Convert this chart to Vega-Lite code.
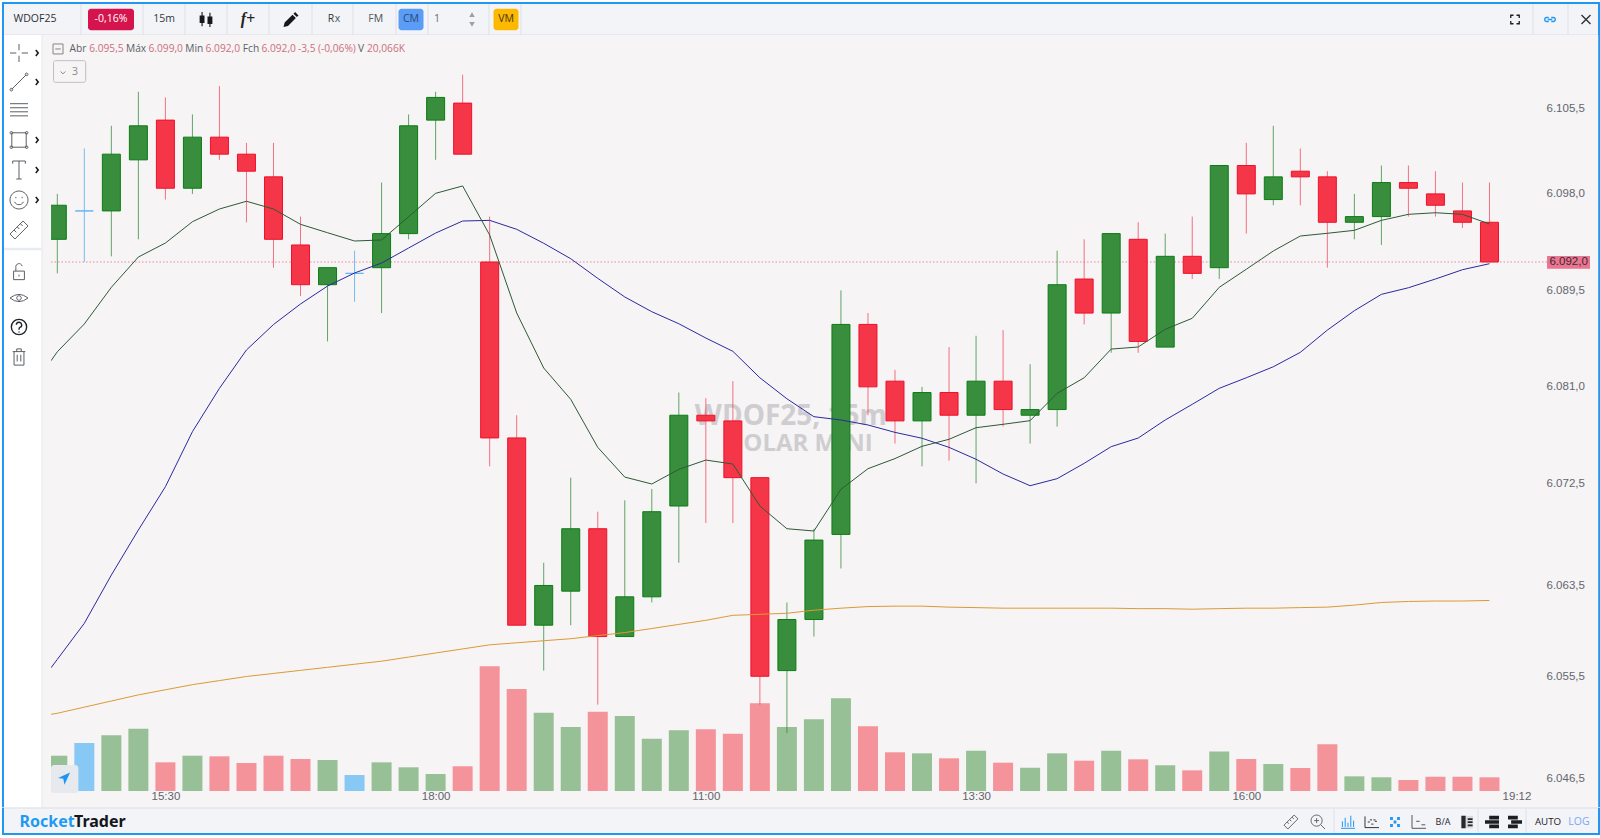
{
"$schema":"https://vega.github.io/schema/vega-lite/v6.json",
"background":"#ffffff",
"padding":{"left":1,"top":2,"right":1,"bottom":3},
"spacing":0,
"bounds":"flush",
"config":{"view":{"stroke":null},"font":"Open Sans","text":{"font":"Open Sans"}},
"datasets":{
"candles":[
{"bar":0,"dir":"up","open":6094,"high":6098,"low":6091,"close":6097,"volume":51.7},
{"bar":1,"dir":"doji","open":6096.5,"high":6102,"low":6092,"close":6096.5,"volume":70.3},
{"bar":2,"dir":"up","open":6096.5,"high":6104,"low":6092.5,"close":6101.5,"volume":81.6},
{"bar":3,"dir":"up","open":6101,"high":6107,"low":6094,"close":6104,"volume":91.3},
{"bar":4,"dir":"down","open":6104.5,"high":6106.5,"low":6097.5,"close":6098.5,"volume":42.0},
{"bar":5,"dir":"up","open":6098.5,"high":6105,"low":6098,"close":6103,"volume":51.7},
{"bar":6,"dir":"down","open":6103,"high":6107.5,"low":6101,"close":6101.5,"volume":50.8},
{"bar":7,"dir":"down","open":6101.5,"high":6102.5,"low":6095.5,"close":6100,"volume":41.0},
{"bar":8,"dir":"down","open":6099.5,"high":6102.5,"low":6091.5,"close":6094,"volume":51.7},
{"bar":9,"dir":"down","open":6093.5,"high":6096,"low":6089,"close":6090,"volume":46.9},
{"bar":10,"dir":"up","open":6090,"high":6091.5,"low":6085,"close":6091.5,"volume":45.4},
{"bar":11,"dir":"doji","open":6091,"high":6093,"low":6088.5,"close":6091,"volume":23.4},
{"bar":12,"dir":"up","open":6091.5,"high":6099,"low":6087.5,"close":6094.5,"volume":42.0},
{"bar":13,"dir":"up","open":6094.5,"high":6105,"low":6094,"close":6104,"volume":34.7},
{"bar":14,"dir":"up","open":6104.5,"high":6107,"low":6101,"close":6106.5,"volume":24.9},
{"bar":15,"dir":"down","open":6106,"high":6108.5,"low":6101.5,"close":6101.5,"volume":36.2},
{"bar":16,"dir":"down","open":6092,"high":6096,"low":6074,"close":6076.5,"volume":182.7},
{"bar":17,"dir":"down","open":6076.5,"high":6078.5,"low":6060,"close":6060,"volume":149.4},
{"bar":18,"dir":"up","open":6060,"high":6065.5,"low":6056,"close":6063.5,"volume":114.7},
{"bar":19,"dir":"up","open":6063,"high":6073,"low":6060,"close":6068.5,"volume":93.8},
{"bar":20,"dir":"down","open":6068.5,"high":6070,"low":6053,"close":6059,"volume":116.2},
{"bar":21,"dir":"up","open":6059,"high":6071,"low":6059,"close":6062.5,"volume":109.9},
{"bar":22,"dir":"up","open":6062.5,"high":6072,"low":6062,"close":6070,"volume":76.6},
{"bar":23,"dir":"up","open":6070.5,"high":6080.5,"low":6065.5,"close":6078.5,"volume":88.9},
{"bar":24,"dir":"down","open":6078.5,"high":6080,"low":6069,"close":6078,"volume":90.4},
{"bar":25,"dir":"down","open":6078,"high":6081.5,"low":6069,"close":6073,"volume":83.9},
{"bar":26,"dir":"down","open":6073,"high":6073,"low":6053,"close":6055.5,"volume":128.5},
{"bar":27,"dir":"up","open":6056,"high":6062,"low":6050.5,"close":6060.5,"volume":93.8},
{"bar":28,"dir":"up","open":6060.5,"high":6068.5,"low":6059,"close":6067.5,"volume":105.0},
{"bar":29,"dir":"up","open":6068,"high":6089.5,"low":6065,"close":6086.5,"volume":135.8},
{"bar":30,"dir":"down","open":6086.5,"high":6087.5,"low":6078.5,"close":6081,"volume":95.0},
{"bar":31,"dir":"down","open":6081.5,"high":6082.5,"low":6076,"close":6078,"volume":56.7},
{"bar":32,"dir":"up","open":6078,"high":6081,"low":6074,"close":6080.5,"volume":55.2},
{"bar":33,"dir":"down","open":6080.5,"high":6084.5,"low":6074.5,"close":6078.5,"volume":47.9},
{"bar":34,"dir":"up","open":6078.5,"high":6085.5,"low":6072.5,"close":6081.5,"volume":59.0},
{"bar":35,"dir":"down","open":6081.5,"high":6086,"low":6077.5,"close":6079,"volume":41.5},
{"bar":36,"dir":"up","open":6078.5,"high":6083,"low":6076,"close":6079,"volume":34.1},
{"bar":37,"dir":"up","open":6079,"high":6093,"low":6077.5,"close":6090,"volume":55.2},
{"bar":38,"dir":"down","open":6090.5,"high":6094,"low":6086.5,"close":6087.5,"volume":44.4},
{"bar":39,"dir":"up","open":6087.5,"high":6094.5,"low":6084,"close":6094.5,"volume":59.0},
{"bar":40,"dir":"down","open":6094,"high":6095.5,"low":6084,"close":6085,"volume":46.4},
{"bar":41,"dir":"up","open":6084.5,"high":6094.5,"low":6084.5,"close":6092.5,"volume":37.7},
{"bar":42,"dir":"down","open":6092.5,"high":6096,"low":6090.5,"close":6091,"volume":30.3},
{"bar":43,"dir":"up","open":6091.5,"high":6100.5,"low":6090.5,"close":6100.5,"volume":57.9},
{"bar":44,"dir":"down","open":6100.5,"high":6102.5,"low":6094.5,"close":6098,"volume":46.9},
{"bar":45,"dir":"up","open":6097.5,"high":6104,"low":6097,"close":6099.5,"volume":39.6},
{"bar":46,"dir":"down","open":6100,"high":6102,"low":6097,"close":6099.5,"volume":33.7},
{"bar":47,"dir":"down","open":6099.5,"high":6100,"low":6091.5,"close":6095.5,"volume":68.4},
{"bar":48,"dir":"up","open":6095.5,"high":6098,"low":6094,"close":6096,"volume":21.5},
{"bar":49,"dir":"up","open":6096,"high":6100.5,"low":6093.5,"close":6099,"volume":20.1},
{"bar":50,"dir":"down","open":6099,"high":6100.5,"low":6096,"close":6098.5,"volume":16.1},
{"bar":51,"dir":"down","open":6098,"high":6100,"low":6096,"close":6097,"volume":20.9},
{"bar":52,"dir":"down","open":6096.5,"high":6099,"low":6095,"close":6095.5,"volume":20.9},
{"bar":53,"dir":"down","open":6095.5,"high":6099,"low":6092,"close":6092,"volume":20.07}
],
"averages":[
{"series":"long","bar":-0.233,"price":6052.15},{"series":"long","bar":0,"price":6052.24},{"series":"long","bar":1,"price":6052.78},{"series":"long","bar":2,"price":6053.32},{"series":"long","bar":3,"price":6053.86},{"series":"long","bar":4,"price":6054.31},{"series":"long","bar":5,"price":6054.76},{"series":"long","bar":6,"price":6055.12},{"series":"long","bar":7,"price":6055.48},{"series":"long","bar":8,"price":6055.75},{"series":"long","bar":9,"price":6056.02},{"series":"long","bar":10,"price":6056.29},{"series":"long","bar":11,"price":6056.56},{"series":"long","bar":12,"price":6056.83},{"series":"long","bar":13,"price":6057.19},{"series":"long","bar":14,"price":6057.55},{"series":"long","bar":15,"price":6057.91},{"series":"long","bar":16,"price":6058.27},{"series":"long","bar":17,"price":6058.45},{"series":"long","bar":18,"price":6058.63},{"series":"long","bar":19,"price":6058.81},{"series":"long","bar":20,"price":6059.08},{"series":"long","bar":21,"price":6059.35},{"series":"long","bar":22,"price":6059.71},{"series":"long","bar":23,"price":6060.07},{"series":"long","bar":24,"price":6060.43},{"series":"long","bar":25,"price":6060.87},{"series":"long","bar":26,"price":6060.96},{"series":"long","bar":27,"price":6061.05},{"series":"long","bar":28,"price":6061.32},{"series":"long","bar":29,"price":6061.5},{"series":"long","bar":30,"price":6061.64},{"series":"long","bar":31,"price":6061.68},{"series":"long","bar":32,"price":6061.68},{"series":"long","bar":33,"price":6061.59},{"series":"long","bar":34,"price":6061.55},{"series":"long","bar":35,"price":6061.5},{"series":"long","bar":36,"price":6061.5},{"series":"long","bar":37,"price":6061.5},{"series":"long","bar":38,"price":6061.5},{"series":"long","bar":39,"price":6061.5},{"series":"long","bar":40,"price":6061.46},{"series":"long","bar":41,"price":6061.46},{"series":"long","bar":42,"price":6061.41},{"series":"long","bar":43,"price":6061.46},{"series":"long","bar":44,"price":6061.5},{"series":"long","bar":45,"price":6061.5},{"series":"long","bar":46,"price":6061.55},{"series":"long","bar":47,"price":6061.59},{"series":"long","bar":48,"price":6061.77},{"series":"long","bar":49,"price":6062.0},{"series":"long","bar":50,"price":6062.09},{"series":"long","bar":51,"price":6062.13},{"series":"long","bar":52,"price":6062.13},{"series":"long","bar":53,"price":6062.18},
{"series":"slow","bar":-0.233,"price":6056.25},{"series":"slow","bar":0,"price":6056.99},{"series":"slow","bar":1,"price":6060.17},{"series":"slow","bar":2,"price":6064.42},{"series":"slow","bar":3,"price":6068.39},{"series":"slow","bar":4,"price":6072.2},{"series":"slow","bar":5,"price":6077.05},{"series":"slow","bar":6,"price":6080.87},{"series":"slow","bar":7,"price":6084.25},{"series":"slow","bar":8,"price":6086.49},{"series":"slow","bar":9,"price":6088.3},{"series":"slow","bar":10,"price":6089.88},{"series":"slow","bar":11,"price":6091.03},{"series":"slow","bar":12,"price":6091.91},{"series":"slow","bar":13,"price":6093.23},{"series":"slow","bar":14,"price":6094.55},{"series":"slow","bar":15,"price":6095.61},{"series":"slow","bar":16,"price":6095.67},{"series":"slow","bar":17,"price":6094.88},{"series":"slow","bar":18,"price":6093.65},{"series":"slow","bar":19,"price":6092.29},{"series":"slow","bar":20,"price":6090.56},{"series":"slow","bar":21,"price":6088.92},{"series":"slow","bar":22,"price":6087.62},{"series":"slow","bar":23,"price":6086.56},{"series":"slow","bar":24,"price":6085.3},{"series":"slow","bar":25,"price":6084.13},{"series":"slow","bar":26,"price":6081.8},{"series":"slow","bar":27,"price":6079.95},{"series":"slow","bar":28,"price":6078.37},{"series":"slow","bar":29,"price":6078.08},{"series":"slow","bar":30,"price":6077.64},{"series":"slow","bar":31,"price":6076.99},{"series":"slow","bar":32,"price":6076.47},{"series":"slow","bar":33,"price":6075.67},{"series":"slow","bar":34,"price":6074.62},{"series":"slow","bar":35,"price":6073.32},{"series":"slow","bar":36,"price":6072.29},{"series":"slow","bar":37,"price":6072.91},{"series":"slow","bar":38,"price":6074.26},{"series":"slow","bar":39,"price":6075.73},{"series":"slow","bar":40,"price":6076.49},{"series":"slow","bar":41,"price":6078.08},{"series":"slow","bar":42,"price":6079.46},{"series":"slow","bar":43,"price":6080.87},{"series":"slow","bar":44,"price":6081.8},{"series":"slow","bar":45,"price":6082.77},{"series":"slow","bar":46,"price":6084.04},{"series":"slow","bar":47,"price":6086.0},{"series":"slow","bar":48,"price":6087.71},{"series":"slow","bar":49,"price":6089.15},{"series":"slow","bar":50,"price":6089.73},{"series":"slow","bar":51,"price":6090.5},{"series":"slow","bar":52,"price":6091.32},{"series":"slow","bar":53,"price":6091.85},
{"series":"fast","bar":-0.233,"price":6083.3},{"series":"fast","bar":0,"price":6084.09},{"series":"fast","bar":1,"price":6086.54},{"series":"fast","bar":2,"price":6089.77},{"series":"fast","bar":3,"price":6092.44},{"series":"fast","bar":4,"price":6093.67},{"series":"fast","bar":5,"price":6095.55},{"series":"fast","bar":6,"price":6096.67},{"series":"fast","bar":7,"price":6097.35},{"series":"fast","bar":8,"price":6096.67},{"series":"fast","bar":9,"price":6095.32},{"series":"fast","bar":10,"price":6094.58},{"series":"fast","bar":11,"price":6093.85},{"series":"fast","bar":12,"price":6093.94},{"series":"fast","bar":13,"price":6095.99},{"series":"fast","bar":14,"price":6098.05},{"series":"fast","bar":15,"price":6098.7},{"series":"fast","bar":16,"price":6094.38},{"series":"fast","bar":17,"price":6087.51},{"series":"fast","bar":18,"price":6082.66},{"series":"fast","bar":19,"price":6079.9},{"series":"fast","bar":20,"price":6075.67},{"series":"fast","bar":21,"price":6073.05},{"series":"fast","bar":22,"price":6072.44},{"series":"fast","bar":23,"price":6073.73},{"series":"fast","bar":24,"price":6074.55},{"series":"fast","bar":25,"price":6074.2},{"series":"fast","bar":26,"price":6070.5},{"series":"fast","bar":27,"price":6068.5},{"series":"fast","bar":28,"price":6068.3},{"series":"fast","bar":29,"price":6071.97},{"series":"fast","bar":30,"price":6073.79},{"series":"fast","bar":31,"price":6074.68},{"series":"fast","bar":32,"price":6075.76},{"series":"fast","bar":33,"price":6076.38},{"series":"fast","bar":34,"price":6077.4},{"series":"fast","bar":35,"price":6077.7},{"series":"fast","bar":36,"price":6078.02},{"series":"fast","bar":37,"price":6080.43},{"series":"fast","bar":38,"price":6081.8},{"series":"fast","bar":39,"price":6084.33},{"series":"fast","bar":40,"price":6084.51},{"series":"fast","bar":41,"price":6086.07},{"series":"fast","bar":42,"price":6087.04},{"series":"fast","bar":43,"price":6089.77},{"series":"fast","bar":44,"price":6091.36},{"series":"fast","bar":45,"price":6092.97},{"series":"fast","bar":46,"price":6094.29},{"series":"fast","bar":47,"price":6094.53},{"series":"fast","bar":48,"price":6094.79},{"series":"fast","bar":49,"price":6095.67},{"series":"fast","bar":50,"price":6096.2},{"series":"fast","bar":51,"price":6096.34},{"series":"fast","bar":52,"price":6096.2},{"series":"fast","bar":53,"price":6095.35}
]
},
"vconcat":[
{"width":1598,"height":2,"data":{"values":[{}]},"mark":{"type":"rect","color":"#2196f3"},"encoding":{}},
{"width":1598,"height":31,"view":{"fill":"#f2f4f8","stroke":null},"resolve":{"scale":{"color":"independent","shape":"independent","size":"independent","stroke":"independent"}},
"layer":[
{"data":{"values":[{"slot":1},{"slot":3},{"slot":5},{"slot":7},{"slot":9},{"slot":11},{"slot":14},{"slot":17},{"slot":19},{"slot":22},{"slot":24},{"slot":26},{"slot":28}]},
"mark":{"type":"rule","color":"#e4e7ed","strokeWidth":1.5},
"encoding":{"x":{"field":"slot","type":"quantitative","axis":null,"scale":{"domain":[-1,0,1,2,3,4,5,6,7,8,9,10,11,12,13,14,15,16,17,18,19,20,21,22,23,24,25,26,27,28,29,30],"range":[1,33,79,109,141,162,183,204,225,246,267,289,310,329,335.5,351,369,376.5,394,409,426,435,470,487,504,519,1513,1531,1548,1566,1584,1597],"nice":false,"zero":false,"padding":0}}}},
{"data":{"values":[{"edge":0}]},"mark":{"type":"rule","color":"#e3e6ec","strokeWidth":1.5},
"encoding":{"y":{"field":"edge","type":"quantitative","axis":null,"scale":{"domain":[0,1],"nice":false,"zero":false}}}},
{"data":{"values":[{"slot":-1},{"slot":30}]},"mark":{"type":"rule","color":"#2196f3","strokeWidth":2},
"encoding":{"x":{"field":"slot","type":"quantitative","axis":null}}},
{"data":{"values":[{"slot":2}]},"mark":{"type":"bar","width":46,"cornerRadius":3,"color":"#d5134c","orient":"vertical"},
"encoding":{"x":{"field":"slot","type":"quantitative","axis":null},"y":{"datum":0.15,"type":"quantitative","axis":null},"y2":{"datum":0.85}}},
{"data":{"values":[{"slot":18,"item":"CM"},{"slot":23,"item":"VM"}]},"mark":{"type":"bar","width":25,"cornerRadius":3,"orient":"vertical"},
"encoding":{"x":{"field":"slot","type":"quantitative","axis":null},"y":{"datum":0.15,"type":"quantitative","axis":null},"y2":{"datum":0.85},"color":{"field":"item","type":"nominal","legend":null,"scale":{"domain":["CM","VM"],"range":["#5b9cf6","#fdb900"]}}}},
{"data":{"values":[{"item":"WDOF25","slot":0,"tone":"name"},{"item":"-0,16%","slot":2,"tone":"badge"},{"item":"15m","slot":4,"tone":"plain"},{"item":"R","slot":12,"tone":"big"},{"item":"x","slot":13,"tone":"sub"},{"item":"F","slot":15,"tone":"fm"},{"item":"M","slot":16,"tone":"sub"},{"item":"CM","slot":18,"tone":"cm"},{"item":"1","slot":20,"tone":"num"},{"item":"VM","slot":23,"tone":"vm"}]},
"mark":{"type":"text","font":"Open Sans","fontWeight":500},
"encoding":{"x":{"field":"slot","type":"quantitative","axis":null},"y":{"datum":0.52,"type":"quantitative","axis":null},"text":{"field":"item"},
"color":{"field":"tone","type":"nominal","legend":null,"scale":{"domain":["name","badge","plain","big","sub","fm","cm","num","vm"],"range":["#2d3036","#ffffff","#33373d","#33373d","#4a4e55","#5a5f66","#2b4a70","#666a70","#3d3520"]}},
"size":{"field":"tone","type":"nominal","legend":null,"scale":{"domain":["name","badge","plain","big","sub","fm","cm","num","vm"],"range":[10.5,10.5,11,16,8.5,14,10,11,10]}}}},
{"data":{"values":[{"item":"f+","slot":8}]},"mark":{"type":"text","font":"Liberation Serif","fontStyle":"italic","fontWeight":"bold","fontSize":16,"color":"#222"},
"encoding":{"x":{"field":"slot","type":"quantitative","axis":null},"y":{"datum":0.52,"type":"quantitative","axis":null},"text":{"field":"item"}}},
{"data":{"values":[{"icon":"candle","slot":6},{"icon":"pencil","slot":10}]},"mark":{"type":"point","filled":true,"size":225,"opacity":1,"color":"#16181c","strokeWidth":1},
"encoding":{"x":{"field":"slot","type":"quantitative","axis":null},"y":{"datum":0.5,"type":"quantitative","axis":null},"shape":{"field":"icon","type":"nominal","legend":null,"scale":{"domain":["candle","pencil"],"range":["M-0.85-0.55H-0.2V0.45H-0.85ZM-0.6-1H-0.45V0.9H-0.6ZM0.2-0.4H0.85V0.6H0.2ZM0.45-0.9H0.6V1H0.45Z","M0.55-1L1-0.55L0.78-0.33L0.33-0.78ZM0.2-0.65L0.65-0.2L-0.4 0.85L-1 1L-0.85 0.4Z"]}}}},
{"data":{"values":[{"icon":"expand","slot":25},{"icon":"link","slot":27},{"icon":"close","slot":29}]},"mark":{"type":"point","filled":false,"size":100,"opacity":1,"strokeWidth":1.3},
"encoding":{"x":{"field":"slot","type":"quantitative","axis":null},"y":{"datum":0.5,"type":"quantitative","axis":null},"stroke":{"field":"icon","type":"nominal","legend":null,"scale":{"domain":["expand","link","close"],"range":["#1b1d22","#2196f3","#2a2d33"]}},"shape":{"field":"icon","type":"nominal","legend":null,"scale":{"domain":["expand","link","close"],"range":["M-0.85-0.3V-0.85H-0.3M0.3-0.85H0.85V-0.3M0.85 0.3V0.85H0.3M-0.3 0.85H-0.85V0.3","M-0.25-0.4H-0.65A0.4 0.4 0 0 0 -0.65 0.4H-0.25M0.25-0.4H0.65A0.4 0.4 0 0 1 0.65 0.4H0.25M-0.45 0H0.45","M-0.9-0.9L0.9 0.9M0.9-0.9L-0.9 0.9"]}}}},
{"data":{"values":[{"slot":21,"pos":0.66,"way":"up"},{"slot":21,"pos":0.34,"way":"down"}]},"mark":{"type":"point","filled":true,"size":30,"color":"#9a9ea6","opacity":1},
"encoding":{"x":{"field":"slot","type":"quantitative","axis":null},"y":{"field":"pos","type":"quantitative","axis":null},"shape":{"field":"way","type":"nominal","legend":null,"scale":{"domain":["up","down"],"range":["triangle-up","triangle-down"]}}}}
]},
{"width":1598,"height":773,"view":{"fill":"#f6f4f5","stroke":null},
"resolve":{"scale":{"x":"independent","y":"independent","color":"independent","shape":"independent","size":"independent","fill":"independent","stroke":"independent"}},
"layer":[
{"data":{"values":[{"label":"WDOF25, 15m","bar":27.15,"price":6078.37,"line":"symbol"},{"label":"DOLAR MINI","bar":27.45,"price":6075.96,"line":"desc"}]},
"mark":{"type":"text","font":"Open Sans","fontWeight":"bold","color":"#cfcdd0","baseline":"middle"},
"encoding":{"x":{"field":"bar","type":"quantitative","axis":null,"scale":{"domain":[-2.047,57.09],"nice":false,"zero":false}},"y":{"field":"price","type":"quantitative","axis":null,"scale":{"domain":[6043.894,6112],"nice":false,"zero":false}},"text":{"field":"label"},"size":{"field":"line","type":"nominal","legend":null,"scale":{"domain":["symbol","desc"],"range":[28,24]}}}},
{"data":{"name":"candles"},"mark":{"type":"bar","width":20,"orient":"vertical"},
"encoding":{"x":{"field":"bar","type":"quantitative","axis":null,"scale":{"domain":[-2.047,57.09],"nice":false,"zero":false,"padding":0}},"y":{"field":"volume","type":"quantitative","axis":null,"stack":null,"scale":{"domain":[-24.9,1107.5],"nice":false}},"fill":{"field":"dir","type":"nominal","legend":null,"scale":{"domain":["up","down","doji"],"range":["#98c097","#f5939b","#88c8f5"]}}}},
{"data":{"values":[{"level":6092}]},"mark":{"type":"rule","color":"#ea8a9c","strokeDash":[1.5,2],"strokeWidth":1},
"encoding":{"x":{"datum":-0.233,"type":"quantitative","axis":null,"scale":{"domain":[-2.047,57.09],"nice":false,"zero":false}},"x2":{"datum":55.13},"y":{"field":"level","type":"quantitative","axis":null,"scale":{"domain":[6043.894,6112],"nice":false,"zero":false}}}},
{"data":{"name":"candles"},"mark":{"type":"rule","strokeWidth":1,"opacity":0.75},
"encoding":{"x":{"field":"bar","type":"quantitative","scale":{"domain":[-2.047,57.09],"nice":false,"zero":false},
"axis":{"orient":"bottom","title":null,"grid":false,"domain":false,"ticks":false,"offset":-18,"labelPadding":0,"values":[4,14,24,34,44,54],"labelExpr":"['15:30','18:00','11:00','13:30','16:00','19:12'][round((datum.value-4)/10)]","labelFont":"Liberation Sans","labelFontSize":11.5,"labelColor":"#5f636b","labelOverlap":false,"labelFlush":false,"labelBound":false}},
"y":{"field":"low","type":"quantitative","scale":{"domain":[6043.894,6112],"nice":false,"zero":false},
"axis":{"orient":"right","title":null,"grid":false,"domain":false,"ticks":false,"offset":-54,"labelPadding":0,"values":[6105.5,6098,6089.5,6081,6072.5,6063.5,6055.5,6046.5],"labelExpr":"'6.'+slice(replace(format(datum.value,'.1f'),'.',','),1)","labelFont":"Liberation Sans","labelFontSize":11.5,"labelColor":"#62666e","labelOverlap":false,"labelBound":false,"labelFlush":false}},
"y2":{"field":"high"},
"color":{"field":"dir","type":"nominal","legend":null,"scale":{"domain":["up","down","doji"],"range":["#2f8a38","#f0465a","#4aa8f2"]}}}},
{"data":{"name":"candles"},"mark":{"type":"bar","width":18,"orient":"vertical","strokeWidth":1},
"encoding":{"x":{"field":"bar","type":"quantitative","axis":null,"scale":{"domain":[-2.047,57.09],"nice":false,"zero":false,"padding":0}},"y":{"field":"open","type":"quantitative","axis":null,"scale":{"domain":[6043.894,6112],"nice":false,"zero":false}},"y2":{"field":"close"},
"fill":{"field":"dir","type":"nominal","legend":null,"scale":{"domain":["up","down","doji"],"range":["#388e3c","#f43648","#64b5f6"]}},
"stroke":{"field":"dir","type":"nominal","legend":null,"scale":{"domain":["up","down","doji"],"range":["#0b7d14","#f0102a","#64b5f6"]}}}},
{"data":{"name":"averages"},"mark":{"type":"line","strokeWidth":1,"interpolate":"linear"},
"encoding":{"x":{"field":"bar","type":"quantitative","axis":null,"scale":{"domain":[-2.047,57.09],"nice":false,"zero":false}},"y":{"field":"price","type":"quantitative","axis":null,"scale":{"domain":[6043.894,6112],"nice":false,"zero":false}},
"color":{"field":"series","type":"nominal","legend":null,"scale":{"domain":["fast","slow","long"],"range":["#2d5a36","#2a2a9e","#dd9a34"]}}}},
{"data":{"values":[{"panel":"gutter","from":-0.566,"to":-0.233},{"panel":"sidebar","from":-2.047,"to":-0.566}]},"mark":{"type":"rect"},
"encoding":{"x":{"field":"from","type":"quantitative","axis":null,"scale":{"domain":[-2.047,57.09],"nice":false,"zero":false}},"x2":{"field":"to"},"y":{"datum":6043.894,"type":"quantitative","axis":null,"scale":{"domain":[6043.894,6112],"nice":false,"zero":false}},"y2":{"datum":6112},"fill":{"field":"panel","type":"nominal","legend":null,"scale":{"domain":["gutter","sidebar"],"range":["#f6f4f5","#ffffff"]}}}},
{"data":{"values":[{"bar":-0.566,"tone":"border"},{"bar":-2.01,"tone":"frame"},{"bar":57.06,"tone":"frame"}]},"mark":{"type":"rule"},
"encoding":{"x":{"field":"bar","type":"quantitative","axis":null,"scale":{"domain":[-2.047,57.09],"nice":false,"zero":false}},"color":{"field":"tone","type":"nominal","legend":null,"scale":{"domain":["border","frame"],"range":["#e4e7ed","#2196f3"]}},"size":{"field":"tone","type":"nominal","legend":null,"scale":{"domain":["border","frame"],"range":[1,2]}}}},
{"data":{"values":[{"row":7}]},"mark":{"type":"rule","color":"#e8ebf0","strokeWidth":2.5},
"encoding":{"x":{"datum":-1.97,"type":"quantitative","axis":null,"scale":{"domain":[-2.047,57.09],"nice":false,"zero":false}},"x2":{"datum":-0.59},"y":{"field":"row","type":"quantitative","axis":null,"scale":{"domain":[0,1,2,3,4,5,6,7,8,9,10,11],"range":[18,47,75,105,135,165,195,214,237,263,292,322],"nice":false,"zero":false}}}},
{"data":{"values":[{"icon":"cross","row":0,"col":0},{"icon":"line","row":1,"col":0},{"icon":"lines","row":2,"col":0},{"icon":"rect","row":3,"col":0},{"icon":"text","row":4,"col":0},{"icon":"smile","row":5,"col":0},{"icon":"ruler","row":6,"col":0},{"icon":"lock","row":8,"col":0},{"icon":"eye","row":9,"col":0},{"icon":"trash","row":11,"col":0}]},
"mark":{"type":"point","filled":false,"size":324,"opacity":1,"stroke":"#5b5f66","strokeWidth":1},
"encoding":{"x":{"field":"col","type":"quantitative","axis":null,"scale":{"domain":[0,1],"range":[17,35],"nice":false,"zero":false}},"y":{"field":"row","type":"quantitative","axis":null,"scale":{"domain":[0,1,2,3,4,5,6,7,8,9,10,11],"range":[18,47,75,105,135,165,195,214,237,263,292,322],"nice":false,"zero":false}},
"shape":{"field":"icon","type":"nominal","legend":null,"scale":{"domain":["cross","line","lines","rect","text","smile","ruler","lock","eye","trash"],"range":[
"M-1 0H-0.3M0.3 0H1M0-1V-0.3M0 0.3V1",
"M-0.8 0.8L0.8-0.8M-1 0.85A0.15 0.15 0 1 0 -0.7 0.85A0.15 0.15 0 1 0 -1 0.85ZM0.7-0.85A0.15 0.15 0 1 0 1-0.85A0.15 0.15 0 1 0 0.7-0.85Z",
"M-1-0.7H1M-1-0.25H1M-1 0.2H1M-1 0.65H1",
"M-0.8-0.8H0.8V0.8H-0.8ZM-1-0.8A0.15 0.15 0 1 0 -0.7-0.8A0.15 0.15 0 1 0 -1-0.8ZM0.7-0.8A0.15 0.15 0 1 0 1-0.8A0.15 0.15 0 1 0 0.7-0.8ZM-1 0.8A0.15 0.15 0 1 0 -0.7 0.8A0.15 0.15 0 1 0 -1 0.8ZM0.7 0.8A0.15 0.15 0 1 0 1 0.8A0.15 0.15 0 1 0 0.7 0.8Z",
"M-0.7-0.7V-1H0.7V-0.7M0-1V1M-0.3 1H0.3",
"M-1 0A1 1 0 1 1 1 0A1 1 0 1 1 -1 0ZM-0.5 0.2A0.55 0.55 0 0 0 0.5 0.2M-0.35-0.35V-0.2M0.35-0.35V-0.2",
"M-1 0.45L0.45-1L1-0.45L-0.45 1ZM-0.55 0L-0.3 0.25M-0.2-0.35L0.05-0.1M0.15-0.7L0.4-0.45",
"M-0.6-0.1H0.6V0.85H-0.6ZM-0.35-0.1V-0.5A0.35 0.35 0 0 1 0.35-0.65M0 0.3V0.5",
"M-1 0Q0-0.8 1 0Q0 0.8 -1 0ZM-0.25 0A0.25 0.25 0 1 1 0.25 0A0.25 0.25 0 1 1 -0.25 0Z",
"M-0.7-0.6H0.7M-0.25-0.6V-0.9H0.25V-0.6M-0.55-0.6V0.9H0.55V-0.6M-0.2-0.25V0.5M0.2-0.25V0.5"
]}}}},
{"data":{"values":[{"icon":"help","row":10,"col":0}]},
"mark":{"type":"point","filled":false,"size":324,"opacity":1,"stroke":"#1f2229","strokeWidth":1.4},
"encoding":{"x":{"field":"col","type":"quantitative","axis":null,"scale":{"domain":[0,1],"range":[17,35],"nice":false,"zero":false}},"y":{"field":"row","type":"quantitative","axis":null,"scale":{"domain":[0,1,2,3,4,5,6,7,8,9,10,11],"range":[18,47,75,105,135,165,195,214,237,263,292,322],"nice":false,"zero":false}},
"shape":{"field":"icon","type":"nominal","legend":null,"scale":{"domain":["help"],"range":["M-0.85 0A0.85 0.85 0 1 1 0.85 0A0.85 0.85 0 1 1 -0.85 0ZM-0.3-0.25A0.3 0.3 0 1 1 0.1 0.05Q0 0.1 0 0.3M0 0.5V0.62"]}}}},
{"data":{"values":[{"icon":"more","row":0,"col":1},{"icon":"more","row":1,"col":1},{"icon":"more","row":3,"col":1},{"icon":"more","row":4,"col":1},{"icon":"more","row":5,"col":1}]},
"mark":{"type":"point","filled":false,"size":36,"opacity":1,"stroke":"#1a1c20","strokeWidth":1.6},
"encoding":{"x":{"field":"col","type":"quantitative","axis":null,"scale":{"domain":[0,1],"range":[17,35],"nice":false,"zero":false}},"y":{"field":"row","type":"quantitative","axis":null,"scale":{"domain":[0,1,2,3,4,5,6,7,8,9,10,11],"range":[18,47,75,105,135,165,195,214,237,263,292,322],"nice":false,"zero":false}},
"shape":{"field":"icon","type":"nominal","legend":null,"scale":{"domain":["more"],"range":["M-0.4-1L0.4 0L-0.4 1"]}}}},
{"data":{"values":[{"from":55.13,"to":56.72,"top":6092.53,"bottom":6091.41}]},"mark":{"type":"rect","fill":"#ea7590"},
"encoding":{"x":{"field":"from","type":"quantitative","axis":null,"scale":{"domain":[-2.047,57.09],"nice":false,"zero":false}},"x2":{"field":"to"},"y":{"field":"top","type":"quantitative","axis":null,"scale":{"domain":[6043.894,6112],"nice":false,"zero":false}},"y2":{"field":"bottom"}}},
{"data":{"values":[{"label":"6.092,0","bar":55.93,"price":6092}]},"mark":{"type":"text","font":"Liberation Sans","fontSize":11.5,"color":"#3a2a30"},
"encoding":{"x":{"field":"bar","type":"quantitative","axis":null,"scale":{"domain":[-2.047,57.09],"nice":false,"zero":false}},"y":{"field":"price","type":"quantitative","axis":null,"scale":{"domain":[6043.894,6112],"nice":false,"zero":false}},"text":{"field":"label"}}},
{"data":{"values":[{"from":-0.233,"to":0.78,"top":6047.68,"bottom":6045.21}]},"mark":{"type":"rect","fill":"#e6e9ee","cornerRadius":3},
"encoding":{"x":{"field":"from","type":"quantitative","axis":null,"scale":{"domain":[-2.047,57.09],"nice":false,"zero":false}},"x2":{"field":"to"},"y":{"field":"top","type":"quantitative","axis":null,"scale":{"domain":[6043.894,6112],"nice":false,"zero":false}},"y2":{"field":"bottom"}}},
{"data":{"values":[{"bar":0.25,"price":6046.5,"icon":"navigate"}]},"mark":{"type":"point","filled":true,"size":225,"opacity":1,"color":"#1e96f0"},
"encoding":{"x":{"field":"bar","type":"quantitative","axis":null,"scale":{"domain":[-2.047,57.09],"nice":false,"zero":false}},"y":{"field":"price","type":"quantitative","axis":null,"scale":{"domain":[6043.894,6112],"nice":false,"zero":false}},"shape":{"field":"icon","type":"nominal","legend":null,"scale":{"domain":["navigate"],"range":["M0.8-0.8L-0.8-0.05L-0.1 0.05L0.05 0.85Z"]}}}},
{"data":{"values":[{"from":-0.14,"to":1.05,"top":6109.74,"bottom":6107.83}]},"mark":{"type":"rect","fill":"transparent","stroke":"#bfc0c4","strokeWidth":1,"cornerRadius":2},
"encoding":{"x":{"field":"from","type":"quantitative","axis":null,"scale":{"domain":[-2.047,57.09],"nice":false,"zero":false}},"x2":{"field":"to"},"y":{"field":"top","type":"quantitative","axis":null,"scale":{"domain":[6043.894,6112],"nice":false,"zero":false}},"y2":{"field":"bottom"}}},
{"data":{"values":[{"bar":0.655,"price":6108.7,"label":"3"}]},"mark":{"type":"text","font":"Open Sans","fontSize":11,"color":"#8b8d92"},
"encoding":{"x":{"field":"bar","type":"quantitative","axis":null,"scale":{"domain":[-2.047,57.09],"nice":false,"zero":false}},"y":{"field":"price","type":"quantitative","axis":null,"scale":{"domain":[6043.894,6112],"nice":false,"zero":false}},"text":{"field":"label"}}},
{"data":{"values":[{"bar":0.21,"price":6108.7,"icon":"chevron"},{"bar":0.026,"price":6110.77,"icon":"box"}]},"mark":{"type":"point","filled":false,"opacity":1,"stroke":"#85878c","strokeWidth":1},
"encoding":{"x":{"field":"bar","type":"quantitative","axis":null,"scale":{"domain":[-2.047,57.09],"nice":false,"zero":false}},"y":{"field":"price","type":"quantitative","axis":null,"scale":{"domain":[6043.894,6112],"nice":false,"zero":false}},"shape":{"field":"icon","type":"nominal","legend":null,"scale":{"domain":["chevron","box"],"range":["M-0.6-0.25L0 0.35L0.6-0.25","M-1-1H1V1H-1ZM-0.55 0H0.55"]}},"size":{"field":"icon","type":"nominal","legend":null,"scale":{"domain":["chevron","box"],"range":[64,100]}}}},
{"data":{"values":[{"item":"Abr","slot":1,"tone":"label"},{"item":"6.095,5","slot":2,"tone":"value"},{"item":"Máx","slot":3,"tone":"label"},{"item":"6.099,0","slot":4,"tone":"value"},{"item":"Min","slot":5,"tone":"label"},{"item":"6.092,0","slot":6,"tone":"value"},{"item":"Fch","slot":7,"tone":"label"},{"item":"6.092,0","slot":8,"tone":"value"},{"item":"-3,5","slot":9,"tone":"value"},{"item":"(-0,06%)","slot":10,"tone":"value"},{"item":"V","slot":11,"tone":"label"},{"item":"20,066K","slot":12,"tone":"value"}]},
"mark":{"type":"text","font":"Open Sans","fontSize":10.2,"align":"left","baseline":"middle"},
"encoding":{"x":{"field":"slot","type":"quantitative","axis":null,"scale":{"domain":[1,2,3,4,5,6,7,8,9,10,11,12],"range":[67.6,87.2,124,146.5,183.3,203.6,240.8,259.4,296,316,356,365],"nice":false,"zero":false}},"y":{"datum":6110.77,"type":"quantitative","axis":null,"scale":{"domain":[6043.894,6112],"nice":false,"zero":false}},"text":{"field":"item"},"color":{"field":"tone","type":"nominal","legend":null,"scale":{"domain":["label","value"],"range":["#5a5f68","#cb6f80"]}}}}
]},
{"width":1598,"height":25,"view":{"fill":"#f2f4f8","stroke":null},"resolve":{"scale":{"color":"independent","shape":"independent","size":"independent","stroke":"independent"}},
"layer":[
{"data":{"values":[{"slot":4},{"slot":11},{"slot":14}]},"mark":{"type":"rule","color":"#e4e7ed","strokeWidth":1.5},
"encoding":{"x":{"field":"slot","type":"quantitative","axis":null,"scale":{"domain":[-1,0,1,2,3,4,5,6,7,8,9,10,11,12,13,14,15,16,17],"range":[1,17.6,72,1289,1316,1332,1346,1370,1393,1417,1441,1465,1476,1490,1513,1524,1546,1577,1597],"nice":false,"zero":false}}}},
{"data":{"values":[{"edge":1}]},"mark":{"type":"rule","color":"#e3e6ec","strokeWidth":1.5},
"encoding":{"y":{"field":"edge","type":"quantitative","axis":null,"scale":{"domain":[0,1],"nice":false,"zero":false}}}},
{"data":{"values":[{"slot":-1},{"slot":17}]},"mark":{"type":"rule","color":"#2196f3","strokeWidth":2},
"encoding":{"x":{"field":"slot","type":"quantitative","axis":null}}},
{"data":{"values":[{"item":"Rocket","slot":0},{"item":"Trader","slot":1}]},"mark":{"type":"text","font":"Noto Sans","fontWeight":"bold","fontSize":16,"align":"left"},
"encoding":{"x":{"field":"slot","type":"quantitative","axis":null},"y":{"datum":0.44,"type":"quantitative","axis":null},"text":{"field":"item"},"color":{"field":"item","type":"nominal","legend":null,"scale":{"domain":["Rocket","Trader"],"range":["#1e9bf0","#14161a"]}}}},
{"data":{"values":[{"slot":10}]},"mark":{"type":"point","filled":true,"shape":"square","size":150,"color":"#d9dbdf","opacity":1},
"encoding":{"x":{"field":"slot","type":"quantitative","axis":null},"y":{"datum":0.44,"type":"quantitative","axis":null}}},
{"data":{"values":[{"item":"B/A","slot":9},{"item":"AUTO","slot":15},{"item":"LOG","slot":16}]},"mark":{"type":"text","font":"Open Sans","fontWeight":500},
"encoding":{"x":{"field":"slot","type":"quantitative","axis":null},"y":{"datum":0.44,"type":"quantitative","axis":null},"text":{"field":"item"},"color":{"field":"item","type":"nominal","legend":null,"scale":{"domain":["B/A","AUTO","LOG"],"range":["#26282d","#1f2128","#7aa8f0"]}},"size":{"field":"item","type":"nominal","legend":null,"scale":{"domain":["B/A","AUTO","LOG"],"range":[9,10.5,10.5]}}}},
{"data":{"values":[{"icon":"ruler","slot":2},{"icon":"zoom","slot":3},{"icon":"bars","slot":5},{"icon":"levels","slot":6},{"icon":"axes","slot":8}]},
"mark":{"type":"point","filled":false,"size":196,"opacity":1,"strokeWidth":1},
"encoding":{"x":{"field":"slot","type":"quantitative","axis":null},"y":{"datum":0.44,"type":"quantitative","axis":null},
"stroke":{"field":"icon","type":"nominal","legend":null,"scale":{"domain":["ruler","zoom","bars","levels","axes"],"range":["#666a70","#666a70","#2196f3","#33363c","#55585e"]}},
"shape":{"field":"icon","type":"nominal","legend":null,"scale":{"domain":["ruler","zoom","bars","levels","axes"],"range":[
"M-1 0.45L0.45-1L1-0.45L-0.45 1ZM-0.55 0L-0.3 0.25M-0.2-0.35L0.05-0.1M0.15-0.7L0.4-0.45",
"M-1-0.2A0.8 0.8 0 1 1 0.6-0.2A0.8 0.8 0 1 1 -1-0.2ZM0.4 0.4L1 1M-0.55-0.2H0.15M-0.2-0.55V0.15",
"M-1 0.9H1M-0.8 0.7V-0.1M-0.4 0.7V-0.6M0 0.7V0.1M0.4 0.7V-0.9M0.8 0.7V-0.2",
"M-1-0.8V0.8H1M-0.6 0H-0.3M-0.1 0.3H0.2M0.4-0.1H0.7M-0.3-0.3H0M0.2-0.3H0.5",
"M-1-1V0.9H1M-0.4-0.1H0.1M0.35 0.4H0.9"
]}}}},
{"data":{"values":[{"icon":"dots","slot":7},{"icon":"book","slot":10},{"icon":"left","slot":12},{"icon":"right","slot":13}]},
"mark":{"type":"point","filled":true,"size":196,"opacity":1},
"encoding":{"x":{"field":"slot","type":"quantitative","axis":null},"y":{"datum":0.44,"type":"quantitative","axis":null},
"color":{"field":"icon","type":"nominal","legend":null,"scale":{"domain":["dots","book","left","right"],"range":["#2196f3","#26282d","#1c1e22","#1c1e22"]}},
"shape":{"field":"icon","type":"nominal","legend":null,"scale":{"domain":["dots","book","left","right"],"range":[
"M-0.7-0.7h0.4v0.4h-0.4zM0.3-0.7h0.4v0.4h-0.4zM-0.2-0.2h0.4v0.4h-0.4zM-0.7 0.3h0.4v0.4h-0.4zM0.3 0.3h0.4v0.4h-0.4z",
"M-0.8-0.9H-0.2V0.9H-0.8ZM0.1-0.55H0.8V-0.3H0.1ZM0.1-0.1H0.8V0.15H0.1ZM0.1 0.35H0.8V0.6H0.1Z",
"M-0.4-0.9H1V-0.35H-0.4ZM-1-0.25H1V0.25H-1ZM-0.4 0.35H1V0.9H-0.4Z",
"M-1-0.9H0.4V-0.35H-1ZM-0.55-0.25H1V0.25H-0.55ZM-1 0.35H0.4V0.9H-1Z"
]}}}}
]},
{"width":1598,"height":2,"data":{"values":[{}]},"mark":{"type":"rect","color":"#2196f3"},"encoding":{}}
]
}
